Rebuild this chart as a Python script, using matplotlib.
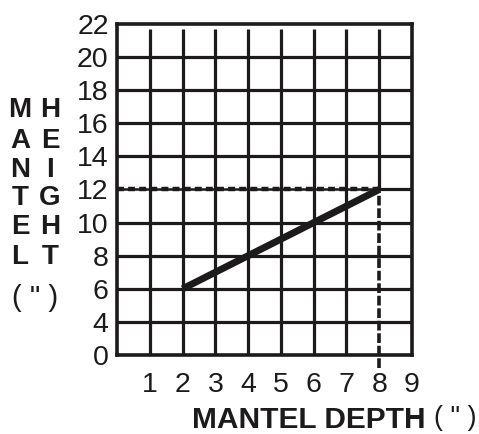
import matplotlib
matplotlib.use("Agg")
import matplotlib.pyplot as plt

plt.rcParams['font.family'] = ['Liberation Sans', 'DejaVu Sans']
plt.rcParams['lines.scale_dashes'] = False

# data
line_x = [2, 8]
line_y = [6, 12]
x_ticks = [1, 2, 3, 4, 5, 6, 7, 8, 9]
y_tick_pos = [2, 4, 6, 8, 10, 12, 14, 16, 18, 20, 22]
y_tick_labels = ["0", "4", "6", "8", "10", "12", "14", "16", "18", "20", "22"]
ref_x = 8
ref_y = 12
ylabel_col1 = list("MANTEL")
ylabel_col2 = list("HEIGHT")
unit_label = '( " )'
xlabel = "MANTEL DEPTH"

INK = '#1c1a1b'
W, H = 479, 434
fig = plt.figure(figsize=(W / 100, H / 100), dpi=100)
ax = fig.add_axes([117 / W, 1 - 355 / H, (412 - 117) / W, (355 - 24) / H])
ax.set_xlim(0, 9)
ax.set_ylim(2, 22)

grid_lw = 2.3
# horizontal grid lines
for y in y_tick_pos[1:-1]:
    if y == ref_y:
        ax.plot([ref_x, 9], [y, y], color=INK, lw=grid_lw, solid_capstyle='butt')
    else:
        ax.plot([0, 9], [y, y], color=INK, lw=grid_lw, solid_capstyle='butt')
# vertical grid lines (stop just below the top border)
vtop = 21.7
for x in x_ticks[:-1]:
    if x == ref_x:
        ax.plot([x, x], [ref_y, vtop], color=INK, lw=grid_lw, solid_capstyle='butt')
    else:
        ax.plot([x, x], [2, vtop], color=INK, lw=grid_lw, solid_capstyle='butt')

# dashed reference lines
ax.plot([0, ref_x], [ref_y, ref_y], color=INK, lw=1.8, solid_capstyle='butt')
ax.plot([0, ref_x], [ref_y + 0.05, ref_y + 0.05], color=INK, lw=3.2, dashes=(5, 3))
ax.plot([ref_x, ref_x], [1.2, ref_y], color=INK, lw=2.6, dashes=(7, 2), clip_on=False)

# main line
ax.plot(line_x, line_y, color=INK, lw=5, solid_capstyle='butt')

for s in ax.spines.values():
    s.set_linewidth(2.6)
    s.set_color(INK)

ax.set_xticks(x_ticks)
ax.set_xticklabels([str(v) for v in x_ticks])
ax.set_yticks(y_tick_pos)
ax.set_yticklabels(y_tick_labels)
ax.tick_params(axis='both', length=0, labelsize=20.5, colors=INK)
ax.tick_params(axis='x', pad=12)
ax.tick_params(axis='y', pad=6)

# stacked y label
rows = [110, 141, 170, 198, 227, 257]
for i, (a, b) in enumerate(zip(ylabel_col1, ylabel_col2)):
    fig.text(20 / W, 1 - rows[i] / H, a, ha='center', va='center',
             fontsize=20, fontweight='bold', color=INK)
    fig.text(50 / W, 1 - rows[i] / H, b, ha='center', va='center',
             fontsize=20, fontweight='bold', color=INK)
fig.text(35 / W, 1 - 298 / H, unit_label, ha='center', va='center',
         fontsize=21, color=INK)

# x label
fig.text(192 / W, 1 - 420 / H, xlabel, ha='left', va='center',
         fontsize=21.5, fontweight='bold', color=INK)
fig.text(476 / W, 1 - 418 / H, unit_label, ha='right', va='center',
         fontsize=19.5, color=INK)

fig.savefig("out.png", dpi=100)
